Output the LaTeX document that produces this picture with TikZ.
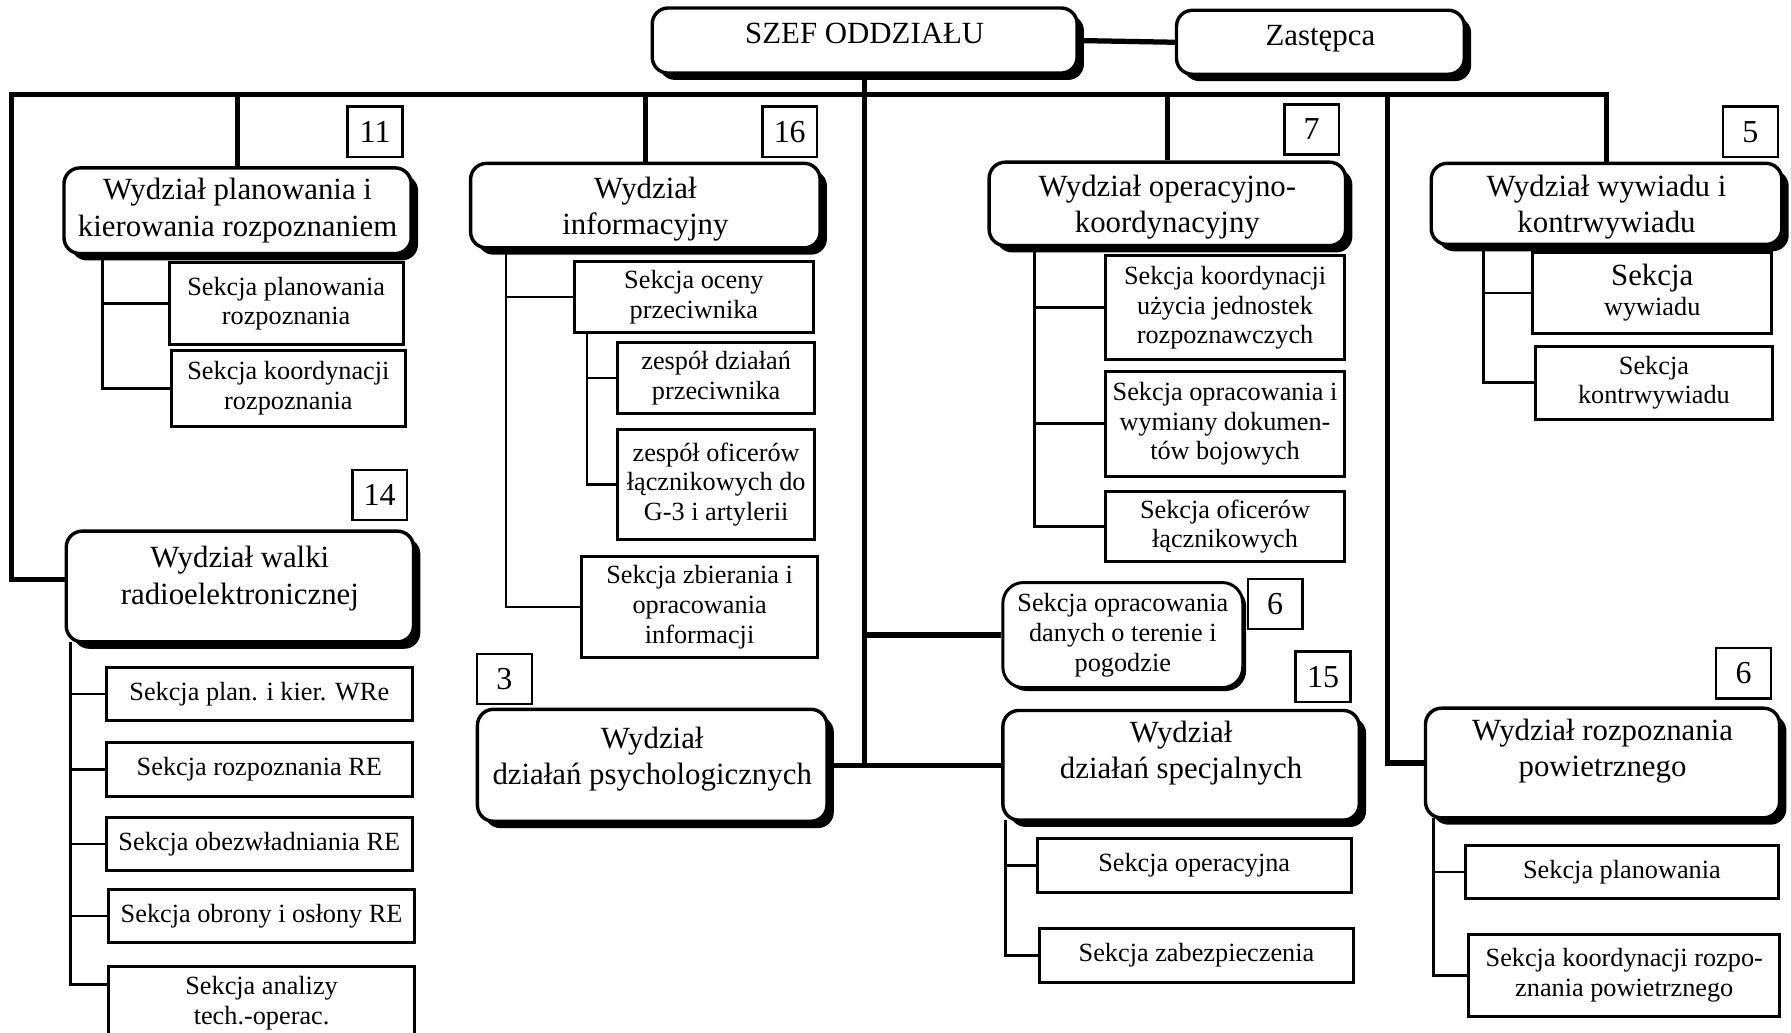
\documentclass[tikz,border=0pt]{standalone}
\usepackage{fontspec}
\setmainfont{Liberation Serif}
\usetikzlibrary{positioning,shadows}
\tikzset{
    wydzial/.style ={
        shape=rectangle,
        rounded corners=7pt,
        draw=black,
        line width=1.5pt,
        fill=white,
        drop shadow={shadow xshift=3pt,shadow yshift=-3pt,fill=black,opacity=1},
        align=center,
        inner sep=1pt,
        font=\fontsize{13.5}{16}\selectfont
    },
    teren/.style ={
        shape=rectangle,
        rounded corners=9pt,
        draw=black,
        line width=1.3pt,
        fill=white,
        drop shadow={shadow xshift=1.5pt,shadow yshift=-1.5pt,fill=black,opacity=1},
        align=center,
        inner sep=1pt,
        font=\fontsize{11.5}{13}\selectfont
    },
    sekcja/.style ={
        shape=rectangle,
        draw=black,
        line width=1.3pt,
        fill=white,
        align=center,
        inner sep=1pt,
        font=\fontsize{11.5}{13}\selectfont
    },
    liczba/.style ={
        shape=rectangle,
        draw=black,
        line width=1.1pt,
        fill=white,
        inner sep=0pt,
        minimum width=24pt,
        minimum height=22pt,
        font=\fontsize{14}{16}\selectfont
    },
    magistrala/.style ={line width=2.3pt},
    galaz/.style ={line width=1.2pt}
}

\begin{document}
\begin{tikzpicture}[x=0.5pt,y=-0.5pt]
    \useasboundingbox (0,0) rectangle (1568,904);
    \node[wydzial,minimum width=186pt,minimum height=28.5pt,text depth=6.5pt] (szef) at (757,35.5) {SZEF ODDZIAŁU};
    \node[wydzial,minimum width=126pt,minimum height=28pt,text depth=6.4pt] (zast) at (1156,37) {Zastępca};
    \node[wydzial,minimum width=152pt,minimum height=37.5pt] (wpl) at (208,184.5) {Wydział planowania i\\kierowania rozpoznaniem};
    \node[wydzial,minimum width=153pt,minimum height=37pt,text depth=0pt] (winf) at (565,180) {Wydział\\informacyjny};
    \node[wydzial,minimum width=156pt,minimum height=36.5pt,text depth=0pt] (wop) at (1022,178.5) {Wydział operacyjno-\\koordynacyjny};
    \node[wydzial,minimum width=153.5pt,minimum height=35.5pt,text depth=0pt] (wwyw) at (1406.5,178.5) {Wydział wywiadu i\\kontrwywiadu};
    \node[wydzial,minimum width=152pt,minimum height=48.5pt,text depth=10pt] (wre) at (210,513.5) {Wydział walki\\radioelektronicznej};
    \node[wydzial,minimum width=153pt,minimum height=49pt,text depth=8.5pt] (wpsy) at (571,670) {Wydział\\działań psychologicznych};
    \node[teren,minimum width=105pt,minimum height=46pt] (wter) at (983,556) {Sekcja opracowania\\danych o terenie i\\pogodzie};
    \node[wydzial,minimum width=156pt,minimum height=48pt,text depth=13.5pt] (wspec) at (1034,670) {Wydział\\działań specjalnych};
    \node[wydzial,minimum width=155pt,minimum height=48pt,text depth=13.5pt] (wpow) at (1403,668) {Wydział rozpoznania\\powietrznego};
    \node[liczba,above left=3.5pt and 4pt of wpl.north east] (n11) {11};
    \node[liczba,above left=1.5pt and 1.5pt of winf.north east] (n16) {16};
    \node[liczba,above left=2pt and 3pt of wop.north east] (n7) {7};
    \node[liczba,above left=1.5pt and 2pt of wwyw.north east] (n5) {5};
    \node[liczba,above left=3.5pt and 3pt of wre.north east] (n14) {14};
    \node[liczba,above right=1pt and 0pt of wpsy.north west] (n3) {3};
    \node[liczba,below right=-1.5pt and 1pt of wter.north east] (n6t) {6};
    \node[liczba,above left=2.5pt and 4pt of wspec.north east] (n15) {15};
    \node[liczba,above left=3pt and 4pt of wpow.north east] (n6p) {6};
    \node[sekcja,minimum width=102.5pt,minimum height=36pt] (spl1) at (250.5,266) {Sekcja planowania\\rozpoznania};
    \node[sekcja,minimum width=102.5pt,minimum height=33pt] (spl2) at (252.5,340) {Sekcja koordynacji\\rozpoznania};
    \node[sekcja,minimum width=104.5pt,minimum height=31pt] (sinf1) at (607.5,260) {Sekcja oceny\\przeciwnika};
    \node[sekcja,minimum width=86pt,minimum height=31pt] (sinf2) at (627,331) {zespół działań\\przeciwnika};
    \node[sekcja,minimum width=86pt,minimum height=48pt] (sinf3) at (627,424) {zespół oficerów\\łącznikowych do\\G-3 i artylerii};
    \node[sekcja,minimum width=103.5pt,minimum height=44.5pt] (sinf4) at (612.5,531.5) {Sekcja zbierania i\\opracowania\\informacji};
    \node[sekcja,minimum width=104.5pt,minimum height=45.5pt] (sop1) at (1072.5,269.5) {Sekcja koordynacji\\użycia jednostek\\rozpoznawczych};
    \node[sekcja,minimum width=104.5pt,minimum height=46pt] (sop2) at (1072.5,371) {Sekcja opracowania i\\wymiany dokumen-\\tów bojowych};
    \node[sekcja,minimum width=104.5pt,minimum height=31pt] (sop3) at (1072.5,461) {Sekcja oficerów\\łącznikowych};
    \node[sekcja,minimum width=104.5pt,minimum height=35.5pt] (swy1) at (1446.5,256.5) {{\fontsize{13.5}{15}\selectfont Sekcja}\\wywiadu};
    \node[sekcja,minimum width=104pt,minimum height=32pt] (swy2) at (1448,335) {Sekcja\\kontrwywiadu};
    \node[sekcja,minimum width=134pt,minimum height=23.5pt] (sre1) at (227,607.5) {Sekcja plan. i kier. WRe};
    \node[sekcja,minimum width=134pt,minimum height=23.5pt] (sre2) at (227,673.5) {Sekcja rozpoznania RE};
    \node[sekcja,minimum width=134pt,minimum height=23.5pt] (sre3) at (227,739) {Sekcja obezwładniania RE};
    \node[sekcja,minimum width=134pt,minimum height=23.5pt] (sre4) at (229,802) {Sekcja obrony i osłony RE};
    \node[sekcja,minimum width=134pt,minimum height=32pt] (sre5) at (229,878) {Sekcja analizy\\tech.-operac.};
    \node[sekcja,minimum width=137.5pt,minimum height=23.5pt] (ssp1) at (1045.5,757.5) {Sekcja operacyjna};
    \node[sekcja,minimum width=137.5pt,minimum height=23.5pt] (ssp2) at (1047.5,836.5) {Sekcja zabezpieczenia};
    \node[sekcja,minimum width=137pt,minimum height=23.5pt] (spo1) at (1420,763.5) {Sekcja planowania};
    \node[sekcja,minimum width=136pt,minimum height=36pt] (spo2) at (1422,854) {Sekcja koordynacji rozpo-\\znania powietrznego};
    \coordinate (bl) at (10,83);
    \coordinate (bpow) at (1215,83);
    \draw[magistrala] (szef.east) -- (zast.west);
    \draw[magistrala] ([yshift=3pt]wre.west) -| (bl) -| (wwyw.north);
    \draw[magistrala] (wpl.north) -- (wpl.north |- bl);
    \draw[magistrala] (winf.north) -- (winf.north |- bl);
    \draw[magistrala] (wop.north) -- (wop.north |- bl);
    \draw[magistrala] (bpow) |- (wpow.west);
    \draw[magistrala] (szef.south) -- (szef.south |- wspec.west);
    \draw[magistrala] (wpsy.east) -- (wspec.west);
    \draw[magistrala] (szef.south |- wter.west) -- (wter.west);
    \coordinate (tpl) at (90,222);
    \coordinate (tinf) at (443,217);
    \coordinate (tocen) at (514,291);
    \coordinate (top) at (906,215);
    \coordinate (twyw) at (1299,214);
    \coordinate (tre) at (62,562);
    \coordinate (tspec) at (880,718);
    \coordinate (tpow) at (1255,716);
    \foreach \s in {spl1,spl2} \draw[galaz] (\s.west) -| (tpl);
    \foreach \s in {sinf1,sinf4} \draw[galaz] (\s.west) -| (tinf);
    \foreach \s in {sinf2,sinf3} \draw[galaz] (\s.west) -| (tocen);
    \foreach \s in {sop1,sop2,sop3} \draw[galaz] (\s.west) -| (top);
    \foreach \s in {swy1,swy2} \draw[galaz] (\s.west) -| (twyw);
    \foreach \s in {sre1,sre2,sre3,sre4} \draw[galaz] (\s.west) -| (tre);
    \draw[galaz] ([yshift=8pt]sre5.west) -| (tre);
    \foreach \s in {ssp1,ssp2} \draw[galaz] (\s.west) -| (tspec);
    \foreach \s in {spo1,spo2} \draw[galaz] (\s.west) -| (tpow);
\end{tikzpicture}
\end{document}
